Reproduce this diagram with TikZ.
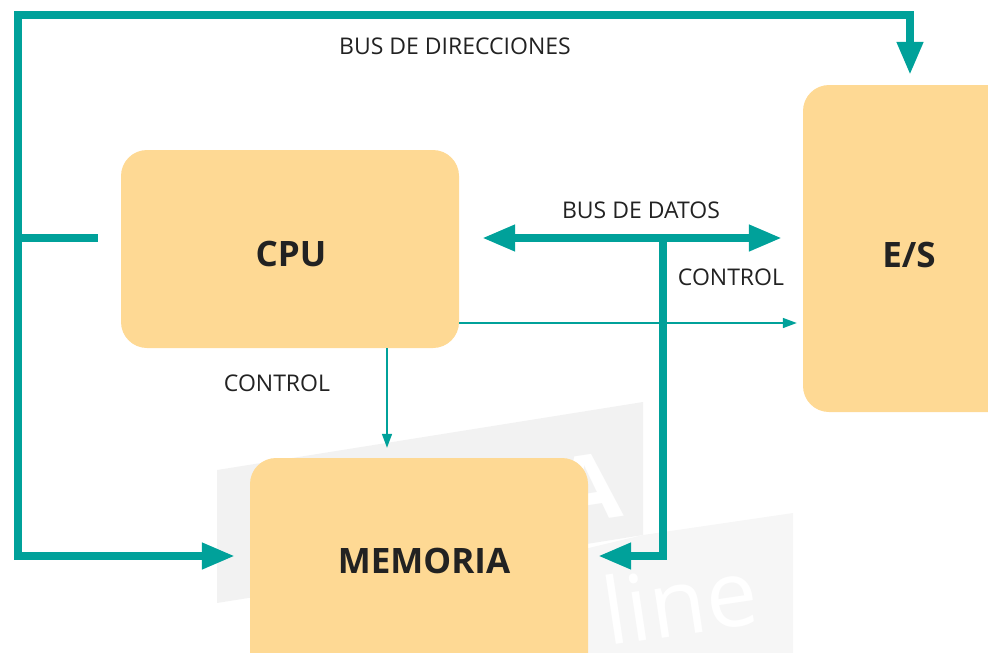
\documentclass[tikz,border=0pt]{standalone}
\usepackage{fontspec}
\setmainfont{Open Sans}
\usetikzlibrary{arrows.meta}
\definecolor{busc}{HTML}{00A19A}
\definecolor{boxc}{HTML}{FED994}
\definecolor{txtc}{HTML}{222222}
\definecolor{wma}{HTML}{F2F2F2}
\definecolor{wmb}{HTML}{F6F6F6}
\tikzset{
  box/.style={fill=boxc, draw=none, rounded corners=26pt, inner sep=0pt},
  bigtext/.style={text=txtc, font=\fontsize{35}{39}\selectfont\bfseries, inner sep=0pt},
  lbl/.style={text=txtc, font=\fontsize{23}{27}\selectfont, inner sep=0pt},
  bus/.style={draw=busc, line width=7.5pt},
  ctrl/.style={draw=busc, line width=1.6pt},
  bigarrow/.style={-{Triangle[length=33pt,width=25pt]}},
  bigdouble/.style={{Triangle[length=33pt,width=25pt]}-{Triangle[length=33pt,width=25pt]}},
  smallarrow/.style={-{Triangle[length=14pt,width=10pt]}},
  wmtext/.style={text=white, inner sep=0pt, rotate=8.5}
}
\begin{document}
\begin{tikzpicture}[x=1pt,y=-1pt]
\useasboundingbox (0,0) rectangle (988,653);
\clip (0,0) rectangle (988,653);
% watermark
\fill[wma] (217,470) -- (643,402) -- (643,535) -- (217,603) -- cycle;
\fill[wmb] (400,593) -- (643,535) -- (793,513) -- (793,660) -- (400,660) -- cycle;
\node[wmtext, anchor=base east, font=\fontsize{92}{96}\selectfont\bfseries] (wmA) at (624,516) {A};
\node[wmtext, anchor=base west, font=\fontsize{92}{96}\selectfont] (wmline) at (608,646) {line};
% boxes
\node[box, minimum width=338pt, minimum height=198pt] (cpu) at (290,249) {};
\node[box, minimum width=338pt, minimum height=230pt] (mem) at (419,573) {};
\node[box, minimum width=240pt, minimum height=327pt] (es) at (923,248.5) {};
\node[bigtext] (cput) at (291,254) {CPU};
\node[bigtext] (memt) at (424,561) {MEMORIA};
\node[bigtext] (est) at (909,255) {E/S};
% labels
\node[lbl] (lbdir) at (455,46) {BUS DE DIRECCIONES};
\node[lbl] (lbdat) at (641,210) {BUS DE DATOS};
\node[lbl] (lbc1) at (731,277) {CONTROL};
\node[lbl] (lbc2) at (277,383) {CONTROL};
% coordinates
\coordinate (tl) at (18,15);
\coordinate (tr) at (910,15);
\coordinate (bl) at (18,556);
\coordinate (br) at (18,238);
\coordinate (db) at (663,238);
\coordinate (dbb) at (663,556);
\coordinate (c1) at (0,323);
\coordinate (c2) at (387,0);
% address bus
\draw[bus, bigdouble, shorten <=10pt, shorten >=15pt] (tr |- es.north) -- (tr) -- (tl) -- (bl) -- (mem.west |- bl);
\draw[bus, shorten >=23pt] (br) -- (cpu.west |- br);
% data bus
\draw[bus, bigdouble, shorten <=23pt, shorten >=21pt] (cpu.east |- db) -- (es.west |- db);
\draw[bus, bigarrow, shorten >=10pt] (db) -- (dbb) -- (mem.east |- dbb);
% control
\draw[ctrl, smallarrow, shorten >=6pt] (cpu.east |- c1) -- (es.west |- c1);
\draw[ctrl, smallarrow, shorten >=10pt] (cpu.south -| c2) -- (mem.north -| c2);
\end{tikzpicture}
\end{document}
